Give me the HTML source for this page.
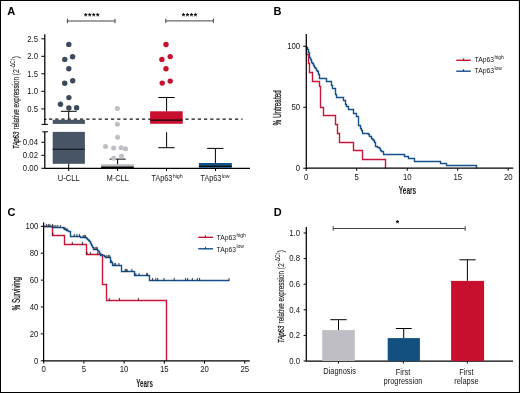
<!DOCTYPE html>
<html><head><meta charset="utf-8">
<style>
html,body{margin:0;padding:0;background:#fff;width:520px;height:393px;overflow:hidden;}
svg{display:block;filter:blur(0.3px);}
text{font-family:"Liberation Sans",sans-serif;fill:#151515;}
</style></head>
<body>
<svg width="520" height="393" viewBox="0 0 520 393">
<rect x="0" y="0" width="520" height="1" fill="#000"/>
<rect x="0" y="0" width="1" height="393" fill="#000"/>
<rect x="518.9" y="0" width="1.1" height="393" fill="#000"/>
<rect x="0" y="392" width="520" height="1" fill="#000"/>
<text x="7.2" y="15" font-size="11" font-weight="bold" style="fill:#000">A</text>
<text x="273.4" y="15.3" font-size="11" font-weight="bold" style="fill:#000">B</text>
<text x="7.4" y="216.2" font-size="11" font-weight="bold" style="fill:#000">C</text>
<text x="273.8" y="216.2" font-size="11" font-weight="bold" style="fill:#000">D</text>
<line x1="44.8" y1="34.3" x2="44.8" y2="124.4" stroke="#000" stroke-width="1.25" />
<line x1="41.5" y1="124.4" x2="48.0" y2="124.4" stroke="#000" stroke-width="1.0" />
<line x1="44.8" y1="131.8" x2="44.8" y2="168.3" stroke="#000" stroke-width="1.25" />
<line x1="42.3" y1="131.8" x2="48.0" y2="131.8" stroke="#000" stroke-width="1.0" />
<line x1="41.3" y1="38.8" x2="44.8" y2="38.8" stroke="#000" stroke-width="1.0" />
<text transform="translate(38.0,41.599999999999994) scale(0.95,1)" font-size="8.2" text-anchor="end" >2.5</text>
<line x1="41.3" y1="56.3" x2="44.8" y2="56.3" stroke="#000" stroke-width="1.0" />
<text transform="translate(38.0,59.099999999999994) scale(0.95,1)" font-size="8.2" text-anchor="end" >2.0</text>
<line x1="41.3" y1="73.8" x2="44.8" y2="73.8" stroke="#000" stroke-width="1.0" />
<text transform="translate(38.0,76.6) scale(0.95,1)" font-size="8.2" text-anchor="end" >1.5</text>
<line x1="41.3" y1="91.3" x2="44.8" y2="91.3" stroke="#000" stroke-width="1.0" />
<text transform="translate(38.0,94.1) scale(0.95,1)" font-size="8.2" text-anchor="end" >1.0</text>
<line x1="41.3" y1="108.9" x2="44.8" y2="108.9" stroke="#000" stroke-width="1.0" />
<text transform="translate(38.0,111.7) scale(0.95,1)" font-size="8.2" text-anchor="end" >0.5</text>
<line x1="41.3" y1="142.3" x2="44.8" y2="142.3" stroke="#000" stroke-width="1.0" />
<text transform="translate(38.0,145.10000000000002) scale(0.95,1)" font-size="8.2" text-anchor="end" >0.04</text>
<line x1="41.3" y1="155.3" x2="44.8" y2="155.3" stroke="#000" stroke-width="1.0" />
<text transform="translate(38.0,158.10000000000002) scale(0.95,1)" font-size="8.2" text-anchor="end" >0.02</text>
<line x1="41.3" y1="168.3" x2="44.8" y2="168.3" stroke="#000" stroke-width="1.0" />
<text transform="translate(38.0,171.10000000000002) scale(0.95,1)" font-size="8.2" text-anchor="end" >0.00</text>
<line x1="44.3" y1="168.3" x2="250" y2="168.3" stroke="#000" stroke-width="1.25" />
<line x1="68.7" y1="168.3" x2="68.7" y2="171" stroke="#000" stroke-width="1.0" />
<line x1="117.6" y1="168.3" x2="117.6" y2="171" stroke="#000" stroke-width="1.0" />
<line x1="166.5" y1="168.3" x2="166.5" y2="171" stroke="#000" stroke-width="1.0" />
<line x1="215.5" y1="168.3" x2="215.5" y2="171" stroke="#000" stroke-width="1.0" />
<text transform="translate(68.7,180.8) scale(0.92,1)" font-size="8.2" text-anchor="middle" >U-CLL</text>
<text transform="translate(117.7,180.8) scale(0.92,1)" font-size="8.2" text-anchor="middle" >M-CLL</text>
<text x="151.6" y="180.8" font-size="8.2" textLength="20.8" lengthAdjust="spacingAndGlyphs">TAp63</text>
<text x="172.70000000000002" y="177.60000000000002" font-size="5.3">high</text>
<text x="200.6" y="180.8" font-size="8.2" textLength="20.8" lengthAdjust="spacingAndGlyphs">TAp63</text>
<text x="221.70000000000002" y="177.60000000000002" font-size="5.3">low</text>
<line x1="44.8" y1="119.3" x2="46.4" y2="119.3" stroke="#000" stroke-width="1.2" />
<line x1="49" y1="119.2" x2="242.5" y2="119.2" stroke="#111" stroke-width="1.3" stroke-dasharray="3.2 3"/>
<rect x="52.7" y="119.8" width="32.2" height="4.1" fill="#485567"/>
<rect x="52.7" y="131.9" width="32.2" height="31.9" fill="#485567"/>
<line x1="52.7" y1="149.3" x2="84.9" y2="149.3" stroke="#0a0a0a" stroke-width="1.1" />
<line x1="68.7" y1="111.3" x2="68.7" y2="119.4" stroke="#000" stroke-width="1.0" />
<line x1="60.9" y1="111.3" x2="76.6" y2="111.3" stroke="#000" stroke-width="1.0" />
<line x1="68.7" y1="163.8" x2="68.7" y2="168.3" stroke="#000" stroke-width="1.0" />
<circle cx="68.8" cy="44.4" r="2.7" fill="#3b495c"/>
<circle cx="72.6" cy="56.7" r="2.7" fill="#3b495c"/>
<circle cx="64.8" cy="59.4" r="2.7" fill="#3b495c"/>
<circle cx="68.8" cy="68.8" r="2.7" fill="#3b495c"/>
<circle cx="72.7" cy="80.8" r="2.7" fill="#3b495c"/>
<circle cx="64.7" cy="83.3" r="2.7" fill="#3b495c"/>
<circle cx="68.9" cy="97.6" r="2.7" fill="#3b495c"/>
<circle cx="60.5" cy="104.3" r="2.7" fill="#3b495c"/>
<circle cx="68.9" cy="108" r="2.7" fill="#3b495c"/>
<circle cx="76.6" cy="107.8" r="2.7" fill="#3b495c"/>
<rect x="101.1" y="164.2" width="32.7" height="3.2" fill="#bfbec5"/>
<line x1="101.1" y1="167.2" x2="133.8" y2="167.2" stroke="#0a0a0a" stroke-width="1.6" />
<line x1="117.6" y1="159.1" x2="117.6" y2="164.2" stroke="#000" stroke-width="1.0" />
<line x1="109.6" y1="159.1" x2="125.7" y2="159.1" stroke="#000" stroke-width="1.0" />
<circle cx="117.4" cy="108.4" r="2.5" fill="#bfbec5"/>
<circle cx="117.4" cy="124.3" r="2.5" fill="#bfbec5"/>
<circle cx="117.6" cy="137.3" r="2.5" fill="#bfbec5"/>
<circle cx="105.5" cy="146.4" r="2.5" fill="#bfbec5"/>
<circle cx="113.6" cy="148.1" r="2.5" fill="#bfbec5"/>
<circle cx="121.1" cy="147.7" r="2.5" fill="#bfbec5"/>
<circle cx="125.5" cy="148.7" r="2.5" fill="#bfbec5"/>
<circle cx="113.7" cy="158.3" r="2.5" fill="#bfbec5"/>
<circle cx="121.4" cy="156.3" r="2.5" fill="#bfbec5"/>
<rect x="150.1" y="111.3" width="32.6" height="12.5" fill="#c8102e"/>
<line x1="150.1" y1="120.2" x2="182.7" y2="120.2" stroke="#0a0a0a" stroke-width="1.2" />
<line x1="166.6" y1="97.5" x2="166.6" y2="111.3" stroke="#000" stroke-width="1.0" />
<line x1="158.3" y1="97.5" x2="174.7" y2="97.5" stroke="#000" stroke-width="1.0" />
<line x1="166.6" y1="132.2" x2="166.6" y2="147.7" stroke="#000" stroke-width="1.0" />
<line x1="158.3" y1="147.7" x2="174.7" y2="147.7" stroke="#000" stroke-width="1.0" />
<circle cx="166" cy="44.5" r="2.7" fill="#c8102e"/>
<circle cx="170.2" cy="56.6" r="2.7" fill="#c8102e"/>
<circle cx="161.9" cy="59.4" r="2.7" fill="#c8102e"/>
<circle cx="166" cy="68.7" r="2.7" fill="#c8102e"/>
<circle cx="170.2" cy="81.1" r="2.7" fill="#c8102e"/>
<circle cx="162.2" cy="83.1" r="2.7" fill="#c8102e"/>
<rect x="198.9" y="163.0" width="32.9" height="4.8" fill="#11507f"/>
<line x1="198.9" y1="166.4" x2="231.8" y2="166.4" stroke="#0a0a0a" stroke-width="1.4" />
<line x1="215.4" y1="148.4" x2="215.4" y2="163" stroke="#000" stroke-width="1.0" />
<line x1="207.2" y1="148.4" x2="223.4" y2="148.4" stroke="#000" stroke-width="1.0" />
<line x1="67.4" y1="21.0" x2="115" y2="21.0" stroke="#444" stroke-width="1.0" />
<line x1="67.4" y1="18.8" x2="67.4" y2="23.2" stroke="#444" stroke-width="1.0" />
<line x1="115" y1="18.8" x2="115" y2="23.2" stroke="#444" stroke-width="1.0" />
<line x1="165.8" y1="20.9" x2="213.4" y2="20.9" stroke="#444" stroke-width="1.0" />
<line x1="165.8" y1="18.7" x2="165.8" y2="23.099999999999998" stroke="#444" stroke-width="1.0" />
<line x1="213.4" y1="18.7" x2="213.4" y2="23.099999999999998" stroke="#444" stroke-width="1.0" />
<text x="85.7" y="18.9" font-size="8.8" text-anchor="middle" font-weight="bold" style="fill:#000">*</text>
<text x="89.7" y="18.9" font-size="8.8" text-anchor="middle" font-weight="bold" style="fill:#000">*</text>
<text x="93.7" y="18.9" font-size="8.8" text-anchor="middle" font-weight="bold" style="fill:#000">*</text>
<text x="97.8" y="18.9" font-size="8.8" text-anchor="middle" font-weight="bold" style="fill:#000">*</text>
<text x="183.5" y="18.9" font-size="8.8" text-anchor="middle" font-weight="bold" style="fill:#000">*</text>
<text x="187.5" y="18.9" font-size="8.8" text-anchor="middle" font-weight="bold" style="fill:#000">*</text>
<text x="191.5" y="18.9" font-size="8.8" text-anchor="middle" font-weight="bold" style="fill:#000">*</text>
<text x="195.4" y="18.9" font-size="8.8" text-anchor="middle" font-weight="bold" style="fill:#000">*</text>
<text transform="translate(18.6,149.0) rotate(-90)" font-size="9.3" textLength="17.3" lengthAdjust="spacingAndGlyphs"><tspan font-style="italic" stroke="#1f1f1f" stroke-width="0.3">TAp63</tspan></text>
<text transform="translate(18.6,129.4) rotate(-90)" font-size="9.3" textLength="52.3" lengthAdjust="spacingAndGlyphs"><tspan stroke="#1f1f1f" stroke-width="0.15">relative expression</tspan></text>
<text transform="translate(18.6,75.4) rotate(-90)" font-size="9.3" textLength="6.1" lengthAdjust="spacingAndGlyphs">(2</text>
<text transform="translate(14.600000000000001,68.9) rotate(-90)" font-size="7.0" textLength="9.9" lengthAdjust="spacingAndGlyphs">-ΔCt</text>
<text transform="translate(18.6,58.400000000000006) rotate(-90)" font-size="9.3" textLength="2.6" lengthAdjust="spacingAndGlyphs">)</text>
<line x1="303.2" y1="46.3" x2="306.3" y2="46.3" stroke="#000" stroke-width="1.0" />
<text transform="translate(300.2,49.099999999999994) scale(0.95,1)" font-size="8.2" text-anchor="end" >100</text>
<line x1="303.2" y1="107.3" x2="306.3" y2="107.3" stroke="#000" stroke-width="1.0" />
<text transform="translate(300.2,110.1) scale(0.95,1)" font-size="8.2" text-anchor="end" >50</text>
<line x1="303.2" y1="168.2" x2="306.3" y2="168.2" stroke="#000" stroke-width="1.0" />
<text transform="translate(300.2,171.0) scale(0.95,1)" font-size="8.2" text-anchor="end" >0</text>
<line x1="306.2" y1="168.2" x2="306.2" y2="170.8" stroke="#000" stroke-width="1.0" />
<text transform="translate(306.2,180.0) scale(0.95,1)" font-size="8.2" text-anchor="middle" >0</text>
<line x1="356.7" y1="168.2" x2="356.7" y2="170.8" stroke="#000" stroke-width="1.0" />
<text transform="translate(356.7,180.0) scale(0.95,1)" font-size="8.2" text-anchor="middle" >5</text>
<line x1="407.2" y1="168.2" x2="407.2" y2="170.8" stroke="#000" stroke-width="1.0" />
<text transform="translate(407.2,180.0) scale(0.95,1)" font-size="8.2" text-anchor="middle" >10</text>
<line x1="457.7" y1="168.2" x2="457.7" y2="170.8" stroke="#000" stroke-width="1.0" />
<text transform="translate(457.7,180.0) scale(0.95,1)" font-size="8.2" text-anchor="middle" >15</text>
<line x1="508.2" y1="168.2" x2="508.2" y2="170.8" stroke="#000" stroke-width="1.0" />
<text transform="translate(508.2,180.0) scale(0.95,1)" font-size="8.2" text-anchor="middle" >20</text>
<text transform="translate(281.4,125.5) rotate(-90)" font-size="10.3" stroke="#1f1f1f" stroke-width="0.3" textLength="35.2" lengthAdjust="spacingAndGlyphs">% Untreated</text>
<text x="398.8" y="193.7" font-size="10.2" font-weight="bold" textLength="17.4" lengthAdjust="spacingAndGlyphs">Years</text>
<path d="M306.5 46.5H306.5V54.5H308.5V63.5H309.5V72.5H312.5V81.5H319.5V86.5H320.5V93.5H320.5V100.5H320.5V107.5H323.5V115.5H335.5V124.5H337.5V133.5H339.5V142.5H353.5V150.5H362.5V159.5H385.5V168.5" fill="none" stroke="#c8163a" stroke-width="1.4"/>
<path d="M306.5 46.5H306.5V47.5H307.5V49.5H308.5V52.5H309.5V54.5H309.5V57.5H310.5V59.5H311.5V62.5H312.5V63.5H313.5V65.5H314.5V67.5H315.5V68.5H316.5V70.5H317.5V71.5H318.5V74.5H319.5V78.5H326.5V81.5H331.5V85.5H332.5V88.5H335.5V94.5H336.5V97.5H343.5V100.5H345.5V104.5H346.5V106.5H348.5V109.5H353.5V113.5H356.5V116.5H358.5V121.5H358.5V125.5H360.5V128.5H361.5V130.5H362.5V133.5H368.5V134.5H369.5V136.5H371.5V138.5H372.5V139.5H373.5V140.5H374.5V142.5H375.5V146.5H377.5V147.5H379.5V148.5H380.5V150.5H381.5V151.5H383.5V154.5H404.5V156.5H408.5V158.5H414.5V161.5H440.5V163.5H446.5V165.5H476.5V168.5" fill="none" stroke="#154f8c" stroke-width="1.4"/>
<line x1="306.3" y1="34" x2="306.3" y2="168.8" stroke="#000" stroke-width="1.25" />
<line x1="305.8" y1="168.2" x2="513.2" y2="168.2" stroke="#000" stroke-width="1.25" />
<line x1="456.2" y1="60.3" x2="470.8" y2="60.3" stroke="#c8163a" stroke-width="1.4" />
<line x1="463.6" y1="58.3" x2="463.6" y2="60.3" stroke="#111" stroke-width="0.8" />
<line x1="456.2" y1="71.2" x2="470.8" y2="71.2" stroke="#154f8c" stroke-width="1.4" />
<line x1="463.6" y1="69.2" x2="463.6" y2="71.2" stroke="#111" stroke-width="0.8" />
<text x="474.5" y="62.2" font-size="7.4" textLength="19.6" lengthAdjust="spacingAndGlyphs">TAp63</text>
<text x="494.40000000000003" y="58.900000000000006" font-size="5.0">high</text>
<text x="474.5" y="73.2" font-size="7.4" textLength="19.6" lengthAdjust="spacingAndGlyphs">TAp63</text>
<text x="494.40000000000003" y="69.9" font-size="5.0">low</text>
<line x1="40.8" y1="226.3" x2="43.6" y2="226.3" stroke="#000" stroke-width="1.0" />
<text transform="translate(38.4,229.10000000000002) scale(0.95,1)" font-size="8.2" text-anchor="end" >100</text>
<line x1="40.8" y1="253.20000000000002" x2="43.6" y2="253.20000000000002" stroke="#000" stroke-width="1.0" />
<text transform="translate(38.4,256.0) scale(0.95,1)" font-size="8.2" text-anchor="end" >80</text>
<line x1="40.8" y1="280.1" x2="43.6" y2="280.1" stroke="#000" stroke-width="1.0" />
<text transform="translate(38.4,282.90000000000003) scale(0.95,1)" font-size="8.2" text-anchor="end" >60</text>
<line x1="40.8" y1="307.0" x2="43.6" y2="307.0" stroke="#000" stroke-width="1.0" />
<text transform="translate(38.4,309.8) scale(0.95,1)" font-size="8.2" text-anchor="end" >40</text>
<line x1="40.8" y1="333.9" x2="43.6" y2="333.9" stroke="#000" stroke-width="1.0" />
<text transform="translate(38.4,336.7) scale(0.95,1)" font-size="8.2" text-anchor="end" >20</text>
<line x1="40.8" y1="360.8" x2="43.6" y2="360.8" stroke="#000" stroke-width="1.0" />
<text transform="translate(38.4,363.6) scale(0.95,1)" font-size="8.2" text-anchor="end" >0</text>
<line x1="43.7" y1="360.9" x2="43.7" y2="363.6" stroke="#000" stroke-width="1.0" />
<text transform="translate(43.7,372.4) scale(0.95,1)" font-size="8.2" text-anchor="middle" >0</text>
<line x1="83.9" y1="360.9" x2="83.9" y2="363.6" stroke="#000" stroke-width="1.0" />
<text transform="translate(83.9,372.4) scale(0.95,1)" font-size="8.2" text-anchor="middle" >5</text>
<line x1="124.1" y1="360.9" x2="124.1" y2="363.6" stroke="#000" stroke-width="1.0" />
<text transform="translate(124.1,372.4) scale(0.95,1)" font-size="8.2" text-anchor="middle" >10</text>
<line x1="164.3" y1="360.9" x2="164.3" y2="363.6" stroke="#000" stroke-width="1.0" />
<text transform="translate(164.3,372.4) scale(0.95,1)" font-size="8.2" text-anchor="middle" >15</text>
<line x1="204.5" y1="360.9" x2="204.5" y2="363.6" stroke="#000" stroke-width="1.0" />
<text transform="translate(204.5,372.4) scale(0.95,1)" font-size="8.2" text-anchor="middle" >20</text>
<line x1="244.7" y1="360.9" x2="244.7" y2="363.6" stroke="#000" stroke-width="1.0" />
<text transform="translate(244.7,372.4) scale(0.95,1)" font-size="8.2" text-anchor="middle" >25</text>
<text transform="translate(20.2,310.4) rotate(-90)" font-size="10.3" stroke="#1f1f1f" stroke-width="0.3" textLength="33.4" lengthAdjust="spacingAndGlyphs">% Surviving</text>
<text x="136.3" y="386.8" font-size="10.2" font-weight="bold" textLength="16.6" lengthAdjust="spacingAndGlyphs">Years</text>
<path d="M43.5 226.5H52.5V235.5H64.5V244.5H86.5V254.5H102.5V284.5H106.5V300.5H166.5V360.5" fill="none" stroke="#c8163a" stroke-width="1.4"/>
<path d="M43.5 226.5H52.5V227.5H63.5V228.5H64.5V229.5H66.5V230.5H68.5V231.5H70.5V234.5H70.5V236.5H80.5V237.5H86.5V238.5H87.5V239.5H88.5V240.5H89.5V241.5H90.5V243.5H91.5V245.5H92.5V247.5H93.5V249.5H97.5V250.5H98.5V251.5H99.5V253.5H100.5V255.5H104.5V256.5H105.5V257.5H110.5V262.5H112.5V265.5H121.5V271.5H134.5V275.5H149.5V280.5H229.5" fill="none" stroke="#154f8c" stroke-width="1.4"/>
<line x1="46.4" y1="223.9" x2="46.4" y2="226.5" stroke="#111" stroke-width="0.8" />
<line x1="48.3" y1="223.9" x2="48.3" y2="226.5" stroke="#111" stroke-width="0.8" />
<line x1="49.9" y1="223.9" x2="49.9" y2="226.5" stroke="#111" stroke-width="0.8" />
<line x1="52.4" y1="223.9" x2="52.4" y2="226.5" stroke="#111" stroke-width="0.8" />
<line x1="54.0" y1="224.9" x2="54.0" y2="227.5" stroke="#111" stroke-width="0.8" />
<line x1="55.9" y1="224.9" x2="55.9" y2="227.5" stroke="#111" stroke-width="0.8" />
<line x1="57.8" y1="224.9" x2="57.8" y2="227.5" stroke="#111" stroke-width="0.8" />
<line x1="60.3" y1="224.9" x2="60.3" y2="227.5" stroke="#111" stroke-width="0.8" />
<line x1="65.0" y1="226.9" x2="65.0" y2="229.5" stroke="#111" stroke-width="0.8" />
<line x1="67.0" y1="227.9" x2="67.0" y2="230.5" stroke="#111" stroke-width="0.8" />
<line x1="74.3" y1="233.9" x2="74.3" y2="236.5" stroke="#111" stroke-width="0.8" />
<line x1="76.9" y1="233.9" x2="76.9" y2="236.5" stroke="#111" stroke-width="0.8" />
<line x1="79.4" y1="233.9" x2="79.4" y2="236.5" stroke="#111" stroke-width="0.8" />
<line x1="83.1" y1="234.9" x2="83.1" y2="237.5" stroke="#111" stroke-width="0.8" />
<line x1="84.2" y1="234.9" x2="84.2" y2="237.5" stroke="#111" stroke-width="0.8" />
<line x1="85.4" y1="234.9" x2="85.4" y2="237.5" stroke="#111" stroke-width="0.8" />
<line x1="95" y1="246.9" x2="95" y2="249.5" stroke="#111" stroke-width="0.8" />
<line x1="96.2" y1="246.9" x2="96.2" y2="249.5" stroke="#111" stroke-width="0.8" />
<line x1="97.3" y1="246.9" x2="97.3" y2="249.5" stroke="#111" stroke-width="0.8" />
<line x1="106.9" y1="254.9" x2="106.9" y2="257.5" stroke="#111" stroke-width="0.8" />
<line x1="108.4" y1="254.9" x2="108.4" y2="257.5" stroke="#111" stroke-width="0.8" />
<line x1="109.8" y1="254.9" x2="109.8" y2="257.5" stroke="#111" stroke-width="0.8" />
<line x1="111.7" y1="259.9" x2="111.7" y2="262.5" stroke="#111" stroke-width="0.8" />
<line x1="114.1" y1="262.9" x2="114.1" y2="265.5" stroke="#111" stroke-width="0.8" />
<line x1="115.6" y1="262.9" x2="115.6" y2="265.5" stroke="#111" stroke-width="0.8" />
<line x1="118.9" y1="262.9" x2="118.9" y2="265.5" stroke="#111" stroke-width="0.8" />
<line x1="125.2" y1="268.9" x2="125.2" y2="271.5" stroke="#111" stroke-width="0.8" />
<line x1="126.2" y1="268.9" x2="126.2" y2="271.5" stroke="#111" stroke-width="0.8" />
<line x1="127.1" y1="268.9" x2="127.1" y2="271.5" stroke="#111" stroke-width="0.8" />
<line x1="131.9" y1="268.9" x2="131.9" y2="271.5" stroke="#111" stroke-width="0.8" />
<line x1="135.8" y1="272.9" x2="135.8" y2="275.5" stroke="#111" stroke-width="0.8" />
<line x1="139.1" y1="272.9" x2="139.1" y2="275.5" stroke="#111" stroke-width="0.8" />
<line x1="146.8" y1="272.9" x2="146.8" y2="275.5" stroke="#111" stroke-width="0.8" />
<line x1="147.3" y1="272.9" x2="147.3" y2="275.5" stroke="#111" stroke-width="0.8" />
<line x1="152.6" y1="277.9" x2="152.6" y2="280.5" stroke="#111" stroke-width="0.8" />
<line x1="155.8" y1="277.9" x2="155.8" y2="280.5" stroke="#111" stroke-width="0.8" />
<line x1="157.7" y1="277.9" x2="157.7" y2="280.5" stroke="#111" stroke-width="0.8" />
<line x1="164" y1="277.9" x2="164" y2="280.5" stroke="#111" stroke-width="0.8" />
<line x1="174.2" y1="277.9" x2="174.2" y2="280.5" stroke="#111" stroke-width="0.8" />
<line x1="185.6" y1="277.9" x2="185.6" y2="280.5" stroke="#111" stroke-width="0.8" />
<line x1="187.7" y1="277.9" x2="187.7" y2="280.5" stroke="#111" stroke-width="0.8" />
<line x1="192.3" y1="277.9" x2="192.3" y2="280.5" stroke="#111" stroke-width="0.8" />
<line x1="197.3" y1="277.9" x2="197.3" y2="280.5" stroke="#111" stroke-width="0.8" />
<line x1="199.6" y1="277.9" x2="199.6" y2="280.5" stroke="#111" stroke-width="0.8" />
<line x1="229.0" y1="277.9" x2="229.0" y2="280.5" stroke="#111" stroke-width="0.8" />
<line x1="52.9" y1="232.9" x2="52.9" y2="235.5" stroke="#111" stroke-width="0.8" />
<line x1="72.3" y1="241.9" x2="72.3" y2="244.5" stroke="#111" stroke-width="0.8" />
<line x1="82.5" y1="241.9" x2="82.5" y2="244.5" stroke="#111" stroke-width="0.8" />
<line x1="87.0" y1="251.9" x2="87.0" y2="254.5" stroke="#111" stroke-width="0.8" />
<line x1="90.3" y1="251.9" x2="90.3" y2="254.5" stroke="#111" stroke-width="0.8" />
<line x1="97.7" y1="251.9" x2="97.7" y2="254.5" stroke="#111" stroke-width="0.8" />
<line x1="109.2" y1="297.9" x2="109.2" y2="300.5" stroke="#111" stroke-width="0.8" />
<line x1="119.4" y1="297.9" x2="119.4" y2="300.5" stroke="#111" stroke-width="0.8" />
<line x1="138.4" y1="297.9" x2="138.4" y2="300.5" stroke="#111" stroke-width="0.8" />
<line x1="43.6" y1="222.4" x2="43.6" y2="361.4" stroke="#000" stroke-width="1.25" />
<line x1="43.1" y1="360.9" x2="249.8" y2="360.9" stroke="#000" stroke-width="1.25" />
<line x1="198.2" y1="237.3" x2="213.1" y2="237.3" stroke="#c8163a" stroke-width="1.4" />
<line x1="205.4" y1="235.2" x2="205.4" y2="237.3" stroke="#111" stroke-width="0.8" />
<line x1="198.2" y1="248.8" x2="213.1" y2="248.8" stroke="#154f8c" stroke-width="1.4" />
<line x1="205.4" y1="246.7" x2="205.4" y2="248.8" stroke="#111" stroke-width="0.8" />
<text x="216.5" y="240.2" font-size="7.4" textLength="19.6" lengthAdjust="spacingAndGlyphs">TAp63</text>
<text x="236.4" y="236.89999999999998" font-size="5.0">high</text>
<text x="216.5" y="251.6" font-size="7.4" textLength="19.6" lengthAdjust="spacingAndGlyphs">TAp63</text>
<text x="236.4" y="248.29999999999998" font-size="5.0">low</text>
<line x1="306.3" y1="227.1" x2="306.3" y2="361" stroke="#000" stroke-width="1.25" />
<line x1="305.8" y1="361" x2="513" y2="361" stroke="#000" stroke-width="1.25" />
<line x1="303.6" y1="233.0" x2="306.3" y2="233.0" stroke="#000" stroke-width="1.0" />
<text transform="translate(300.0,235.8) scale(0.95,1)" font-size="8.2" text-anchor="end" >1.0</text>
<line x1="303.6" y1="258.6" x2="306.3" y2="258.6" stroke="#000" stroke-width="1.0" />
<text transform="translate(300.0,261.40000000000003) scale(0.95,1)" font-size="8.2" text-anchor="end" >0.8</text>
<line x1="303.6" y1="284.2" x2="306.3" y2="284.2" stroke="#000" stroke-width="1.0" />
<text transform="translate(300.0,287.0) scale(0.95,1)" font-size="8.2" text-anchor="end" >0.6</text>
<line x1="303.6" y1="309.8" x2="306.3" y2="309.8" stroke="#000" stroke-width="1.0" />
<text transform="translate(300.0,312.6) scale(0.95,1)" font-size="8.2" text-anchor="end" >0.4</text>
<line x1="303.6" y1="335.4" x2="306.3" y2="335.4" stroke="#000" stroke-width="1.0" />
<text transform="translate(300.0,338.2) scale(0.95,1)" font-size="8.2" text-anchor="end" >0.2</text>
<line x1="303.6" y1="361.0" x2="306.3" y2="361.0" stroke="#000" stroke-width="1.0" />
<text transform="translate(300.0,363.8) scale(0.95,1)" font-size="8.2" text-anchor="end" >0.0</text>
<rect x="322.2" y="330.1" width="32.6" height="30.9" fill="#bfbec5"/>
<line x1="338.5" y1="319.7" x2="338.5" y2="330.1" stroke="#000" stroke-width="1.0" />
<line x1="330.4" y1="319.7" x2="346.6" y2="319.7" stroke="#000" stroke-width="1.0" />
<rect x="387.7" y="338.1" width="32.2" height="22.9" fill="#11507f"/>
<line x1="403.7" y1="328.5" x2="403.7" y2="338.1" stroke="#000" stroke-width="1.0" />
<line x1="395.9" y1="328.5" x2="411.7" y2="328.5" stroke="#000" stroke-width="1.0" />
<rect x="451.1" y="280.9" width="33.0" height="80.1" fill="#c8102e"/>
<line x1="467.4" y1="259.8" x2="467.4" y2="280.9" stroke="#000" stroke-width="1.0" />
<line x1="459.4" y1="259.8" x2="475.6" y2="259.8" stroke="#000" stroke-width="1.0" />
<line x1="338.5" y1="361" x2="338.5" y2="363.5" stroke="#000" stroke-width="1.0" />
<line x1="403.4" y1="361" x2="403.4" y2="363.5" stroke="#000" stroke-width="1.0" />
<line x1="467.4" y1="361" x2="467.4" y2="363.5" stroke="#000" stroke-width="1.0" />
<text transform="translate(339.6,374.4) scale(0.91,1)" font-size="8.2" text-anchor="middle" >Diagnosis</text>
<text transform="translate(403.0,374.6) scale(0.91,1)" font-size="8.2" text-anchor="middle" >First</text>
<text transform="translate(403.0,383.9) scale(0.91,1)" font-size="8.2" text-anchor="middle" >progression</text>
<text transform="translate(466.4,374.6) scale(0.91,1)" font-size="8.2" text-anchor="middle" >First</text>
<text transform="translate(466.4,383.9) scale(0.91,1)" font-size="8.2" text-anchor="middle" >relapse</text>
<line x1="333.2" y1="228.5" x2="465.2" y2="228.5" stroke="#444" stroke-width="1.0" />
<line x1="333.2" y1="226.2" x2="333.2" y2="230.8" stroke="#444" stroke-width="1.0" />
<line x1="465.2" y1="226.2" x2="465.2" y2="230.8" stroke="#444" stroke-width="1.0" />
<text x="397.4" y="226.2" font-size="8.8" text-anchor="middle" font-weight="bold" style="fill:#000">*</text>
<text transform="translate(283.8,343.0) rotate(-90)" font-size="9.3" textLength="17.3" lengthAdjust="spacingAndGlyphs"><tspan font-style="italic" stroke="#1f1f1f" stroke-width="0.3">TAp63</tspan></text>
<text transform="translate(283.8,323.4) rotate(-90)" font-size="9.3" textLength="52.3" lengthAdjust="spacingAndGlyphs"><tspan stroke="#1f1f1f" stroke-width="0.15">relative expression</tspan></text>
<text transform="translate(283.8,269.4) rotate(-90)" font-size="9.3" textLength="6.1" lengthAdjust="spacingAndGlyphs">(2</text>
<text transform="translate(279.8,262.9) rotate(-90)" font-size="7.0" textLength="9.9" lengthAdjust="spacingAndGlyphs">-ΔCt</text>
<text transform="translate(283.8,252.4) rotate(-90)" font-size="9.3" textLength="2.6" lengthAdjust="spacingAndGlyphs">)</text>
</svg>
</body></html>
